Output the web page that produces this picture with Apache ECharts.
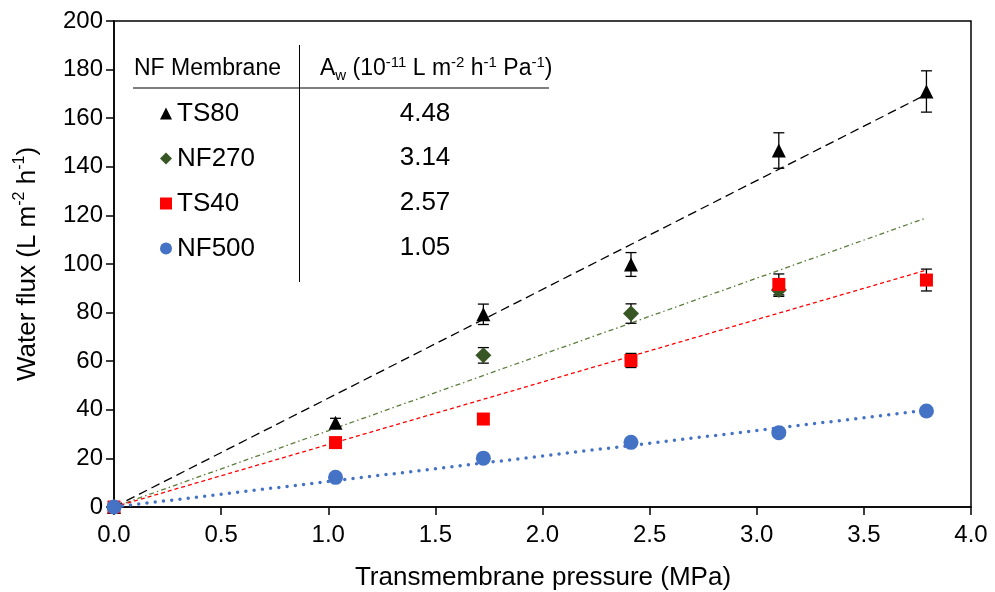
<!DOCTYPE html>
<html>
<head>
<meta charset="utf-8">
<script src="https://cdn.jsdelivr.net/npm/echarts@6/dist/echarts.min.js"></script>
<style>
html,body{margin:0;padding:0;background:#fff;}
#chart{width:995px;height:592px;}
</style>
</head>
<body>
<div id="chart"></div>
<script>
// ---- data ----
var pressure = [0, 1.034, 1.724, 2.413, 3.103, 3.792];
var membranes = ['TS80', 'NF270', 'TS40', 'NF500'];
var ts80 = [0, 34.7, 79.3, 99.8, 146.7, 171.0];
var ts80Err = [0, 1.8, 4.2, 4.9, 7.3, 8.5];
// NF270 points at 1.03 and 3.79 MPa are hidden behind other markers in the reference
var nf270 = [0, null, 62.4, 79.6, 89.3, null];
var nf270Err = [0, 0, 3.2, 4.0, 2.6, 0];
var ts40 = [0, 26.5, 36.2, 60.3, 91.6, 93.4];
var ts40Err = [0, 0.5, 0.5, 2.9, 4.3, 4.5];
var nf500 = [0, 12.2, 20.1, 26.6, 30.6, 39.5];
var nf500Err = [0, 0.4, 0.5, 0.8, 1.3, 1.5];
var trendEnd = [169.8, 119.0, 97.5, 39.8];   // fitted line value at last pressure
var awValues = ['4.48', '3.14', '2.57', '1.05'];
var xTicks = [0, 0.5, 1, 1.5, 2, 2.5, 3, 3.5, 4];
var yTicks = [0, 20, 40, 60, 80, 100, 120, 140, 160, 180, 200];

var FONT = '"Liberation Sans", Arial, sans-serif';
var values = {TS80: ts80, NF270: nf270, TS40: ts40, NF500: nf500};
var errs = {TS80: ts80Err, NF270: nf270Err, TS40: ts40Err, NF500: nf500Err};
var colors = {TS80: '#000000', NF270: '#375623', TS40: '#FF0000', NF500: '#4472C4'};
var symbols = {TS80: 'triangle', NF270: 'diamond', TS40: 'rect', NF500: 'circle'};
var sizes = {TS80: 14, NF270: 16, TS40: 13, NF500: 15};
var trendStyle = {
  TS80: {color: '#000000', width: 1.3, type: [9, 5]},
  NF270: {color: '#5b7d3c', width: 1.3, type: [5, 3, 1.5, 3]},
  TS40: {color: '#FF0000', width: 1.3, type: [4, 3]},
  NF500: {color: '#4472C4', width: 3.5, type: [0, 8.3], cap: 'round'}
};

function pts(arr) {
  var out = [];
  pressure.forEach(function (p, i) { if (arr[i] !== null) out.push([p, arr[i]]); });
  return out;
}
function errPts(arr, e) {
  var out = [];
  pressure.forEach(function (p, i) { if (arr[i] !== null) out.push([p, arr[i], e[i]]); });
  return out;
}

var series = [];
// trend lines
membranes.forEach(function (m, k) {
  series.push({
    name: m + ' fit', type: 'line', z: 1, symbol: 'none', silent: true,
    data: [[0, 0], [pressure[pressure.length - 1], trendEnd[k]]],
    lineStyle: trendStyle[m]
  });
});
// draw order of markers (later on top)
var drawOrder = ['NF270', 'TS80', 'TS40', 'NF500'];
drawOrder.forEach(function (m) {
  series.push({
    name: m + ' err', type: 'custom', z: 2, silent: true,
    data: errPts(values[m], errs[m]),
    renderItem: function (params, api) {
      var x = api.value(0), y = api.value(1), e = api.value(2);
      if (!e) return null;
      var top = api.coord([x, y + e]);
      var bot = api.coord([x, y - e]);
      var hw = 5.5;
      var st = {stroke: '#000', lineWidth: 1.3};
      return {
        type: 'group', children: [
          {type: 'line', shape: {x1: top[0], y1: top[1], x2: bot[0], y2: bot[1]}, style: st},
          {type: 'line', shape: {x1: top[0] - hw, y1: top[1], x2: top[0] + hw, y2: top[1]}, style: st},
          {type: 'line', shape: {x1: bot[0] - hw, y1: bot[1], x2: bot[0] + hw, y2: bot[1]}, style: st}
        ]
      };
    }
  });
  series.push({
    name: m, type: 'scatter', z: 3,
    symbol: symbols[m], symbolSize: sizes[m],
    itemStyle: {color: colors[m], opacity: 1},
    data: pts(values[m])
  });
});

var rowY = [113.5, 158, 203, 248];
var graphics = [
  {type: 'text', x: 134, y: 69, style: {text: 'NF Membrane', font: '23px ' + FONT, fill: '#000', textVerticalAlign: 'middle', textAlign: 'left'}},
  {type: 'text', x: 320, y: 69, style: {
    text: '{n|A}{sub|w}{n| (10}{sup|-11}{n| L m}{sup|-2}{n| h}{sup|-1}{n| Pa}{sup|-1}{n|)}',
    textVerticalAlign: 'middle', textAlign: 'left',
    rich: {
      n: {fontSize: 23, fontFamily: FONT, lineHeight: 28, fill: '#000'},
      sup: {fontSize: 15, fontFamily: FONT, lineHeight: 14, verticalAlign: 'top', fill: '#000'},
      sub: {fontSize: 15, fontFamily: FONT, lineHeight: 14, verticalAlign: 'bottom', fill: '#000'}
    }
  }},
  {type: 'line', shape: {x1: 133, y1: 88, x2: 549, y2: 88}, style: {stroke: '#7f7f7f', lineWidth: 1.8}},
  {type: 'line', shape: {x1: 299.5, y1: 45, x2: 299.5, y2: 282}, style: {stroke: '#000', lineWidth: 1}},
  // axis titles
  {type: 'text', x: 543, y: 578, style: {text: 'Transmembrane pressure (MPa)', font: '26px ' + FONT, fill: '#000', textAlign: 'center', textVerticalAlign: 'middle'}},
  {type: 'text', x: 28, y: 264, rotation: Math.PI / 2, style: {
    text: '{n|Water flux (L m}{sup|-2}{n| h}{sup|-1}{n|)}',
    textAlign: 'center', textVerticalAlign: 'middle',
    rich: {
      n: {fontSize: 26, fontFamily: FONT, lineHeight: 32, fill: '#000'},
      sup: {fontSize: 16, fontFamily: FONT, lineHeight: 16, verticalAlign: 'top', fill: '#000'}
    }
  }}
];
awValues.forEach(function (v, i) {
  graphics.push({type: 'text', x: 425, y: rowY[i], style: {text: v, font: '26px ' + FONT, fill: '#000', textAlign: 'center', textVerticalAlign: 'middle'}});
});

var chart = echarts.init(document.getElementById('chart'), null, {renderer: 'canvas'});
chart.setOption({
  animation: false,
  backgroundColor: '#fff',
  textStyle: {fontFamily: FONT},
  grid: {left: 114, right: 24, top: 21, bottom: 85, show: true, borderColor: '#000', borderWidth: 1.5, containLabel: false},
  legend: {
    orient: 'vertical', left: 160, top: 100.5, padding: 0,
    itemWidth: 12, itemHeight: 12, itemGap: 19, selectedMode: false,
    data: membranes.map(function (m) { return {name: m, icon: symbols[m]}; }),
    textStyle: {fontSize: 26, fontFamily: FONT, color: '#000', padding: [0, 0, 0, 0]}
  },
  xAxis: {
    type: 'value', min: xTicks[0], max: xTicks[xTicks.length - 1], interval: xTicks[1] - xTicks[0],
    axisLine: {show: true, lineStyle: {color: '#000', width: 1.5}},
    axisTick: {show: true, inside: false, length: 8, lineStyle: {color: '#000', width: 1.5}},
    axisLabel: {fontSize: 24, color: '#000', fontFamily: FONT, margin: 16, formatter: function (v) { return v.toFixed(1); }},
    splitLine: {show: false}
  },
  yAxis: {
    type: 'value', min: yTicks[0], max: yTicks[yTicks.length - 1], interval: yTicks[1] - yTicks[0],
    axisLine: {show: true, lineStyle: {color: '#000', width: 1.5}},
    axisTick: {show: true, inside: false, length: 8, lineStyle: {color: '#000', width: 1.5}},
    axisLabel: {fontSize: 24, color: '#000', fontFamily: FONT, margin: 11},
    splitLine: {show: false}
  },
  graphic: graphics,
  series: series
});
</script>
</body>
</html>
